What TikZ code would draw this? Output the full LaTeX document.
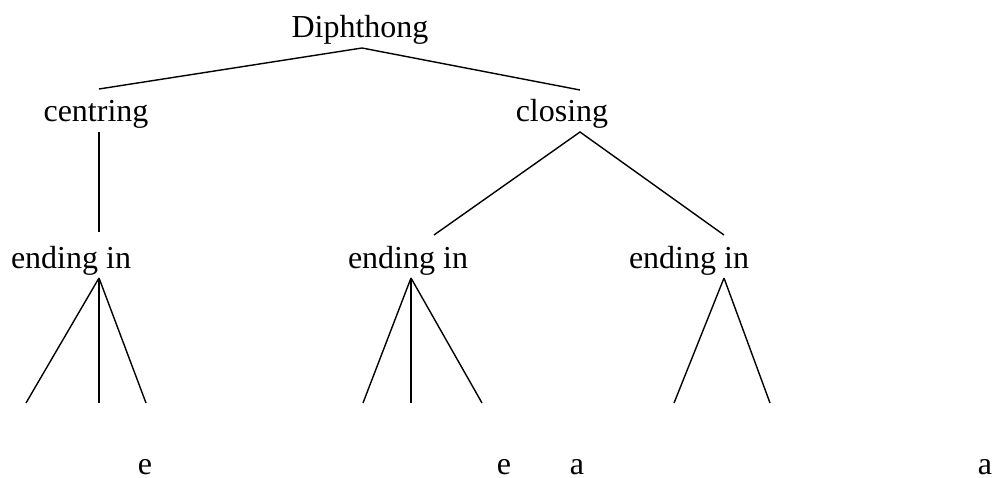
\documentclass[tikz,border=0pt]{standalone}
\usepackage{fontspec}
\setmainfont{Liberation Serif}
\begin{document}
\begin{tikzpicture}[x=1pt,y=-1pt,
  lbl/.style={inner sep=0pt, anchor=base, font=\fontsize{32}{38}\selectfont},
  edge/.style={line width=1.4pt}]
\useasboundingbox (0,0) rectangle (994,478);
% labels
\node[lbl] (diph) at (360,37.5) {Diphthong};
\node[lbl] (cent) at (96,122) {centring};
\node[lbl] (clos) at (562,122) {closing};
\node[lbl] (endA) at (71,269) {ending in};
\node[lbl] (endB) at (408,269) {ending in};
\node[lbl] (endC) at (689,269) {ending in};
\node[lbl] (b1) at (145,474.5) {e};
\node[lbl] (b2) at (504,474.5) {e};
\node[lbl] (b3) at (577,474.5) {a};
\node[lbl] (b4) at (985,474.5) {a};
% connector ends
\coordinate (d0) at (362,48);
\coordinate (c0) at (99,89);
\coordinate (k0) at (580,90);
\coordinate (c1) at (99,132);
\coordinate (c2) at (99,232);
\coordinate (k1) at (580,132);
\coordinate (k2) at (434,235);
\coordinate (k3) at (724,235);
\coordinate (fA) at (99,278);
\coordinate (fA1) at (26,403);
\coordinate (fA2) at (99,403);
\coordinate (fA3) at (146,403);
\coordinate (fB) at (411,278);
\coordinate (fB1) at (363,403);
\coordinate (fB2) at (411,403);
\coordinate (fB3) at (482,403);
\coordinate (fC) at (724,278);
\coordinate (fC1) at (674,403);
\coordinate (fC2) at (770,403);
% connectors
\draw[edge] (c0) -- (d0) -- (k0);
\draw[edge] (c1) -- (c2);
\draw[edge] (k2) -- (k1) -- (k3);
\draw[edge] (fA) -- (fA1);
\draw[edge] (fA) -- (fA2);
\draw[edge] (fA) -- (fA3);
\draw[edge] (fB) -- (fB1);
\draw[edge] (fB) -- (fB2);
\draw[edge] (fB) -- (fB3);
\draw[edge] (fC) -- (fC1);
\draw[edge] (fC) -- (fC2);
\end{tikzpicture}
\end{document}
